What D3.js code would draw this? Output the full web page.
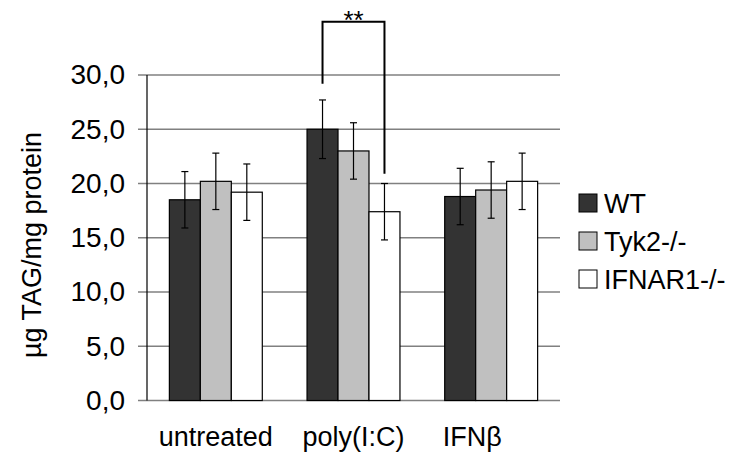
<!DOCTYPE html>
<html>
<head>
<meta charset="utf-8">
<script src="https://cdn.jsdelivr.net/npm/d3@7/dist/d3.min.js"></script>
<style>
body { margin: 0; background: #fff; }
text { font-family: "Liberation Sans", Arial, sans-serif; fill: #000; }
</style>
</head>
<body>
<script>
var categories = ["untreated", "poly(I:C)", "IFN\u03b2"];
var series = ["WT", "Tyk2-/-", "IFNAR1-/-"];
var colors = ["#333333", "#c0c0c0", "#ffffff"];
// values[category][series]
var values = [
    [18.5, 20.2, 19.2],
    [25.0, 23.0, 17.4],
    [18.8, 19.4, 20.2]
];
var errors = [
    [2.6, 2.6, 2.6],
    [2.7, 2.6, 2.6],
    [2.6, 2.6, 2.6]
];
var yTicks = [0, 5, 10, 15, 20, 25, 30];
// bracket between WT and IFNAR1-/- for poly(I:C): left end, top, right end (data units)
var sigGroup = 1, sigFrom = 0, sigTo = 2;
var sigLevels = [29.2, 34.9, 20.9];
var sigLabel = "**";

var width = 739, height = 459;
var plot = { left: 147, right: 560, top: 75, bottom: 400.5 };

var svg = d3.select("body").append("svg")
    .attr("width", width)
    .attr("height", height);

var x0 = d3.scaleBand()
    .domain(categories)
    .range([plot.left, plot.right])
    .paddingInner(0.325)
    .paddingOuter(0.1625);

var x1 = d3.scaleBand()
    .domain(series)
    .range([0, x0.bandwidth()]);

var y = d3.scaleLinear()
    .domain([0, 30])
    .range([plot.bottom, plot.top]);

var col = d3.scaleOrdinal().domain(series).range(colors);

// gridlines (with tick stubs to the left of the axis)
svg.append("g").selectAll("line")
    .data(yTicks)
    .enter().append("line")
    .attr("x1", plot.left - 9)
    .attr("x2", plot.right)
    .attr("y1", function (d) { return y(d); })
    .attr("y2", function (d) { return y(d); })
    .style("stroke", "#808080")
    .style("stroke-width", 1.3);

// y axis labels
var yAxis = d3.axisLeft(y)
    .tickValues(yTicks)
    .tickSize(0)
    .tickPadding(22)
    .tickFormat(function (d) { return d3.format(".1f")(d).replace(".", ","); });

var ya = svg.append("g")
    .attr("transform", "translate(" + plot.left + ",0)")
    .call(yAxis);
ya.select(".domain").remove();
ya.selectAll("text")
    .style("font-size", "28px")
    .style("font-family", "Liberation Sans, Arial, sans-serif")
    .style("fill", "#000");

svg.append("line")
    .attr("x1", plot.left).attr("x2", plot.left)
    .attr("y1", y(0)).attr("y2", y(30))
    .style("stroke", "#000")
    .style("stroke-width", 1.2);

// bars
var groups = svg.append("g").selectAll("g")
    .data(categories)
    .enter().append("g")
    .attr("transform", function (d) { return "translate(" + x0(d) + ",0)"; });

groups.selectAll("rect")
    .data(function (d, i) {
        return series.map(function (s, j) {
            return { s: s, v: values[i][j], e: errors[i][j] };
        });
    })
    .enter().append("rect")
    .attr("x", function (d) { return x1(d.s); })
    .attr("y", function (d) { return y(d.v); })
    .attr("width", x1.bandwidth())
    .attr("height", function (d) { return y(0) - y(d.v); })
    .style("fill", function (d) { return col(d.s); })
    .style("stroke", "#000")
    .style("stroke-width", 1.2);

// error bars
var eb = groups.selectAll(".err")
    .data(function (d, i) {
        return series.map(function (s, j) {
            return { s: s, v: values[i][j], e: errors[i][j] };
        });
    })
    .enter().append("g")
    .attr("class", "err")
    .attr("transform", function (d) { return "translate(" + (x1(d.s) + x1.bandwidth() / 2) + ",0)"; });

eb.append("line")
    .attr("y1", function (d) { return y(d.v - d.e); })
    .attr("y2", function (d) { return y(d.v + d.e); })
    .style("stroke", "#000").style("stroke-width", 1.2);
eb.append("line")
    .attr("x1", -3.5).attr("x2", 3.5)
    .attr("y1", function (d) { return y(d.v + d.e); })
    .attr("y2", function (d) { return y(d.v + d.e); })
    .style("stroke", "#000").style("stroke-width", 1.2);
eb.append("line")
    .attr("x1", -3.5).attr("x2", 3.5)
    .attr("y1", function (d) { return y(d.v - d.e); })
    .attr("y2", function (d) { return y(d.v - d.e); })
    .style("stroke", "#000").style("stroke-width", 1.2);

// significance bracket
var bx1 = x0(categories[sigGroup]) + x1(series[sigFrom]) + x1.bandwidth() / 2;
var bx2 = x0(categories[sigGroup]) + x1(series[sigTo]) + x1.bandwidth() / 2;
svg.append("path")
    .attr("d", d3.line()([[bx1, y(sigLevels[0])], [bx1, y(sigLevels[1])],
                          [bx2, y(sigLevels[1])], [bx2, y(sigLevels[2])]]))
    .style("fill", "none")
    .style("stroke", "#000")
    .style("stroke-width", 2);
svg.append("text")
    .attr("x", (bx1 + bx2) / 2)
    .attr("y", y(sigLevels[1]) + 7)
    .attr("text-anchor", "middle")
    .style("font-size", "26px")
    .text(sigLabel);

// category labels
svg.append("g").selectAll("text")
    .data(categories)
    .enter().append("text")
    .attr("x", function (d) { return x0(d) + x0.bandwidth() / 2; })
    .attr("dx", function (d, i) { return i == 2 ? -19 : 0; })
    .attr("y", 446)
    .attr("text-anchor", "middle")
    .style("font-size", "27px")
    .text(function (d) { return d; });

// y title
svg.append("text")
    .attr("transform", "translate(41,245) rotate(-90)")
    .attr("text-anchor", "middle")
    .style("font-size", "27px")
    .text("\u00b5g TAG/mg protein");

// legend
var legend = svg.append("g").selectAll("g")
    .data(series)
    .enter().append("g")
    .attr("transform", function (d, i) { return "translate(579," + (203 + i * 38) + ")"; });

legend.append("rect")
    .attr("x", 0).attr("y", -9)
    .attr("width", 18).attr("height", 18)
    .style("fill", function (d) { return col(d); })
    .style("stroke", "#000")
    .style("stroke-width", 1);

legend.append("text")
    .attr("x", 25)
    .attr("y", 0)
    .attr("dy", "0.36em")
    .style("font-size", "27px")
    .text(function (d) { return d; });
</script>
</body>
</html>
